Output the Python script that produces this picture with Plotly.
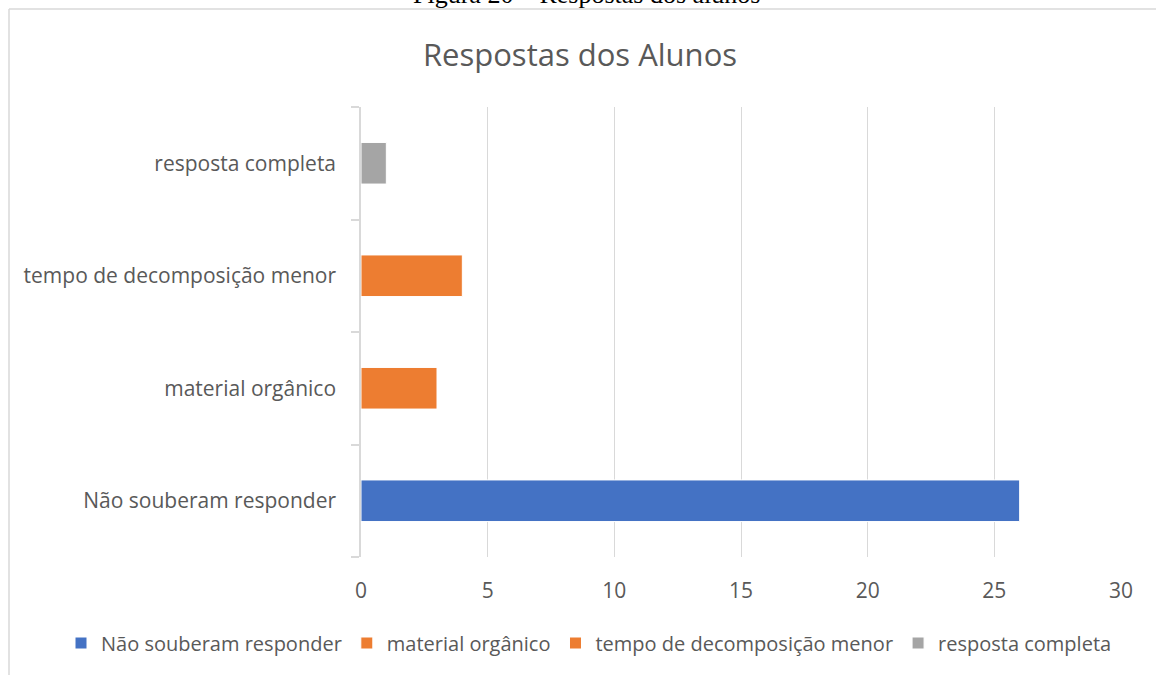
import plotly.graph_objects as go

# data
categories = ["Não souberam responder", "material orgânico",
              "tempo de decomposição menor", "resposta completa"]
values = [26, 3, 4, 1]
colors = ["#4472C4", "#ED7D31", "#ED7D31", "#A5A5A5"]
x_ticks = [0, 5, 10, 15, 20, 25, 30]

TXT = "#595959"
GRID = "#D9D9D9"
FONT = "Open Sans"

fig = go.Figure()
for cat, val, col in zip(categories, values, colors):
    fig.add_trace(go.Bar(
        y=[cat], x=[val], orientation="h", name=cat,
        marker=dict(color=col, line=dict(color="white", width=1)),
        width=0.37,
    ))

# plot area: x 361..1121 px, y 107..557 px
W, H = 1156, 675
L, R, T, B = 361, 35, 107, 118
pw, ph = W - L - R, H - T - B


def px_x(p):
    return (p - L) / pw


def px_y(p):
    return 1 - (p - T) / ph


# chart frame (only top and left edges visible in the screenshot)
fig.add_shape(type="line", xref="paper", yref="paper",
              x0=px_x(9), x1=px_x(1160), y0=px_y(9), y1=px_y(9),
              line=dict(color=GRID, width=1.5))
fig.add_shape(type="line", xref="paper", yref="paper",
              x0=px_x(9), x1=px_x(9), y0=px_y(9), y1=px_y(680),
              line=dict(color=GRID, width=1.5))

# document caption, cut off at the top
fig.add_annotation(text="Figura 20 – Respostas dos alunos", showarrow=False,
                   xref="paper", yref="paper", x=px_x(586), y=px_y(11),
                   xanchor="center", yanchor="bottom",
                   font=dict(family="Liberation Serif", size=26, color="black"))

fig.update_layout(
    width=W, height=H,
    margin=dict(l=L, r=R, t=T, b=B, autoexpand=False),
    barmode="relative",
    plot_bgcolor="white", paper_bgcolor="white",
    font=dict(family=FONT, color=TXT, size=21),
    title=dict(text="Respostas dos Alunos", x=580 / W, xanchor="center",
               y=1 - 55 / H, yanchor="middle",
               font=dict(family=FONT, size=31, color=TXT)),
    xaxis=dict(range=[0, 30], tickvals=x_ticks, showgrid=True,
               gridcolor=GRID, gridwidth=1, zeroline=False,
               showline=False, ticks="", ticklabelstandoff=19,
               automargin=False, tickfont=dict(size=21, color=TXT)),
    yaxis=dict(categoryorder="array", categoryarray=categories,
               showline=True, linecolor=GRID, linewidth=1.5,
               ticks="outside", tickson="boundaries", ticklen=8,
               tickcolor=GRID, tickwidth=1.5, showgrid=False,
               ticklabelstandoff=19, automargin=False,
               tickfont=dict(size=21, color=TXT)),
    # anchored left of the plot area so the legend may use the full width
    legend=dict(orientation="h", x=px_x(61), xanchor="left",
                y=px_y(643), yanchor="middle",
                font=dict(size=20, color=TXT), traceorder="normal",
                itemwidth=30),
    showlegend=True,
)

# the page's default body margin would shift the chart by 8 px
fig.write_html("out.html", config={"displayModeBar": False},
               post_script="document.body.style.margin = '0';")
